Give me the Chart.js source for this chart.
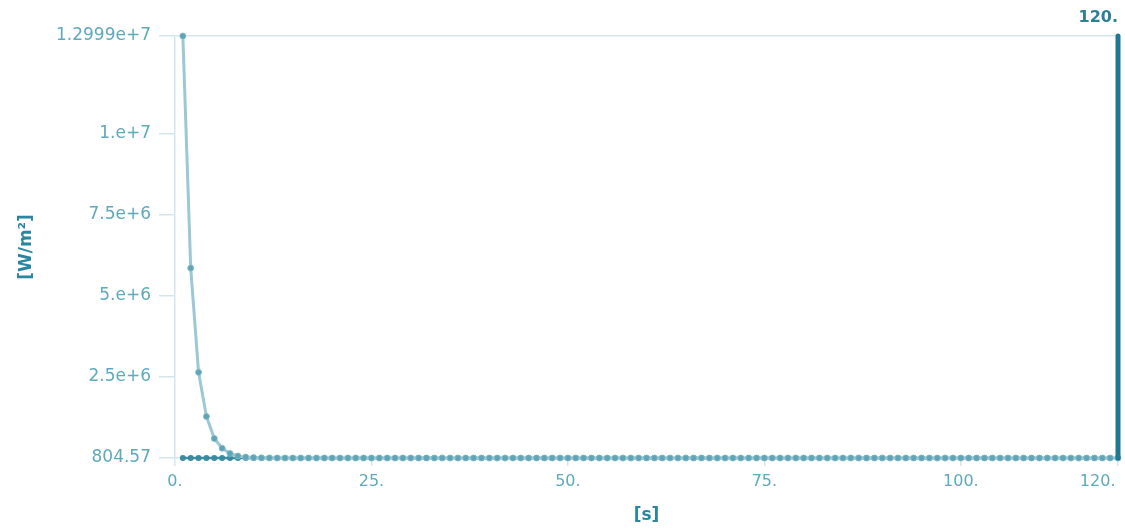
<!DOCTYPE html>
<html>
<head>
<meta charset="utf-8">
<script src="https://cdn.jsdelivr.net/npm/chart.js@4"></script>
<style>
  html, body { margin: 0; padding: 0; background: #fff; }
  #wrap { width: 1125px; height: 530px; }
</style>
</head>
<body>
<div id="wrap"><canvas id="myChart" width="1125" height="530"></canvas></div>
<script>
// time steps [s]
const time = [
  1, 2, 3, 4, 5, 6, 7, 8, 9, 10, 11, 12, 13, 14, 15, 16, 17, 18, 19, 20,
  21, 22, 23, 24, 25, 26, 27, 28, 29, 30, 31, 32, 33, 34, 35, 36, 37, 38, 39, 40,
  41, 42, 43, 44, 45, 46, 47, 48, 49, 50, 51, 52, 53, 54, 55, 56, 57, 58, 59, 60,
  61, 62, 63, 64, 65, 66, 67, 68, 69, 70, 71, 72, 73, 74, 75, 76, 77, 78, 79, 80,
  81, 82, 83, 84, 85, 86, 87, 88, 89, 90, 91, 92, 93, 94, 95, 96, 97, 98, 99, 100,
  101, 102, 103, 104, 105, 106, 107, 108, 109, 110, 111, 112, 113, 114, 115, 116, 117, 118, 119, 120
];

// heat flux [W/m2], decaying curve
const flux = [
  12999000, 5850000, 2640000, 1280000, 600000, 300000, 140000, 62000, 28000, 12500,
  6000, 3000, 1700, 1200, 804.57, 804.57, 804.57, 804.57, 804.57, 804.57,
  804.57, 804.57, 804.57, 804.57, 804.57, 804.57, 804.57, 804.57, 804.57, 804.57,
  804.57, 804.57, 804.57, 804.57, 804.57, 804.57, 804.57, 804.57, 804.57, 804.57,
  804.57, 804.57, 804.57, 804.57, 804.57, 804.57, 804.57, 804.57, 804.57, 804.57,
  804.57, 804.57, 804.57, 804.57, 804.57, 804.57, 804.57, 804.57, 804.57, 804.57,
  804.57, 804.57, 804.57, 804.57, 804.57, 804.57, 804.57, 804.57, 804.57, 804.57,
  804.57, 804.57, 804.57, 804.57, 804.57, 804.57, 804.57, 804.57, 804.57, 804.57,
  804.57, 804.57, 804.57, 804.57, 804.57, 804.57, 804.57, 804.57, 804.57, 804.57,
  804.57, 804.57, 804.57, 804.57, 804.57, 804.57, 804.57, 804.57, 804.57, 804.57,
  804.57, 804.57, 804.57, 804.57, 804.57, 804.57, 804.57, 804.57, 804.57, 804.57,
  804.57, 804.57, 804.57, 804.57, 804.57, 804.57, 804.57, 804.57, 804.57, 804.57
];

// baseline flux [W/m2]
const base = [
  804.57, 804.57, 804.57, 804.57, 804.57, 804.57, 804.57, 804.57, 804.57, 804.57,
  804.57, 804.57, 804.57, 804.57, 804.57, 804.57, 804.57, 804.57, 804.57, 804.57,
  804.57, 804.57, 804.57, 804.57, 804.57, 804.57, 804.57, 804.57, 804.57, 804.57,
  804.57, 804.57, 804.57, 804.57, 804.57, 804.57, 804.57, 804.57, 804.57, 804.57,
  804.57, 804.57, 804.57, 804.57, 804.57, 804.57, 804.57, 804.57, 804.57, 804.57,
  804.57, 804.57, 804.57, 804.57, 804.57, 804.57, 804.57, 804.57, 804.57, 804.57,
  804.57, 804.57, 804.57, 804.57, 804.57, 804.57, 804.57, 804.57, 804.57, 804.57,
  804.57, 804.57, 804.57, 804.57, 804.57, 804.57, 804.57, 804.57, 804.57, 804.57,
  804.57, 804.57, 804.57, 804.57, 804.57, 804.57, 804.57, 804.57, 804.57, 804.57,
  804.57, 804.57, 804.57, 804.57, 804.57, 804.57, 804.57, 804.57, 804.57, 804.57,
  804.57, 804.57, 804.57, 804.57, 804.57, 804.57, 804.57, 804.57, 804.57, 804.57,
  804.57, 804.57, 804.57, 804.57, 804.57, 804.57, 804.57, 804.57, 804.57, 804.57
];

// vertical marker at the current time
const markerTime = 120;
const markerLabel = "120.";

const xTicks = [0, 25, 50, 75, 100, 120];
const xTickLabels = ["0.", "25.", "50.", "75.", "100.", "120."];
const yTicks = [804.57, 2500000, 5000000, 7500000, 10000000, 12999000];
const yTickLabels = ["804.57", "2.5e+6", "5.e+6", "7.5e+6", "1.e+7", "1.2999e+7"];

const yMin = yTicks[0];
const yMax = yTicks[yTicks.length - 1];

const tickColor = "#5ea9bb";
const axisColor = "#d3e6ec";
const titleColor = "#2a86a0";
const fontFamily = "'DejaVu Sans'";

const markerText = {
  id: "markerText",
  afterDatasetsDraw(chart) {
    const c = chart.ctx;
    const x = chart.scales.x.getPixelForValue(markerTime);
    const y = chart.scales.y.getPixelForValue(yMax);
    c.save();
    c.font = "bold 16px " + fontFamily;
    c.fillStyle = "#2d7f97";
    c.textAlign = "right";
    c.textBaseline = "alphabetic";
    c.fillText(markerLabel, x, y - 14);
    c.restore();
  },
};

const ctx = document.getElementById("myChart");
new Chart(ctx, {
  type: "line",
  data: {
    datasets: [
      {
        label: "marker",
        data: [
          { x: markerTime, y: yMin },
          { x: markerTime, y: yMax },
        ],
        borderColor: "#1f7792",
        borderWidth: 5,
        borderCapStyle: "round",
        pointRadius: 0,
        clip: false,
        order: 0,
      },
      {
        label: "base",
        data: time.map((t, i) => ({ x: t, y: base[i] })),
        borderColor: "#3d8fa6",
        borderWidth: 2.5,
        pointRadius: 3,
        pointBackgroundColor: "#3a8aa1",
        pointBorderWidth: 0,
        clip: 6,
        order: 2,
      },
      {
        label: "flux",
        data: time.map((t, i) => ({ x: t, y: flux[i] })),
        borderColor: "#9cc8d5",
        borderWidth: 3,
        pointRadius: 3,
        pointBackgroundColor: "#5fa4b7",
        pointBorderColor: "#84bac9",
        pointBorderWidth: 0.8,
        clip: 6,
        order: 1,
      },
    ],
  },
  options: {
    responsive: false,
    animation: false,
    layout: { padding: { top: 36, right: 7, left: 12, bottom: 0 } },
    plugins: { legend: { display: false }, tooltip: { enabled: false } },
    scales: {
      x: {
        type: "linear",
        min: 0,
        max: 120,
        afterBuildTicks: (scale) => {
          scale.ticks = xTicks.map((v) => ({ value: v }));
        },
        afterFit: (scale) => {
          scale.height = 72;
          scale.paddingRight = 0;
        },
        ticks: {
          autoSkip: false,
          maxRotation: 0,
          color: tickColor,
          font: { family: fontFamily, size: 16 },
          padding: 6,
          // last label sits left of its tick, kept inside the canvas
          callback: (v) =>
            v === 120 ? xTickLabels[xTicks.indexOf(v)] + "        " : xTickLabels[xTicks.indexOf(v)],
        },
        grid: { drawOnChartArea: false, tickLength: 8, color: axisColor, lineWidth: 1.5 },
        border: { display: true, color: axisColor, width: 1.5 },
        title: {
          display: true,
          text: "[s]",
          color: titleColor,
          font: { family: fontFamily, size: 17, weight: "bold" },
          padding: { top: 10 },
        },
      },
      y: {
        type: "linear",
        min: yMin,
        max: yMax,
        afterBuildTicks: (scale) => {
          scale.ticks = yTicks.map((v) => ({ value: v }));
        },
        afterFit: (scale) => {
          scale.width = 163;
        },
        ticks: {
          autoSkip: false,
          color: tickColor,
          font: { family: fontFamily, size: 17 },
          padding: 8,
          callback: (v) => yTickLabels[yTicks.indexOf(v)],
        },
        grid: {
          color: (c) => (c.tick && c.tick.value === yMax ? axisColor : "transparent"),
          tickColor: axisColor,
          tickLength: 16,
          lineWidth: 1.5,
        },
        border: { display: true, color: axisColor, width: 1.5 },
        title: {
          display: true,
          text: "[W/m²]",
          color: titleColor,
          font: { family: fontFamily, size: 17, weight: "bold" },
          padding: { bottom: 0 },
        },
      },
    },
  },
  plugins: [markerText],
});
</script>
</body>
</html>
